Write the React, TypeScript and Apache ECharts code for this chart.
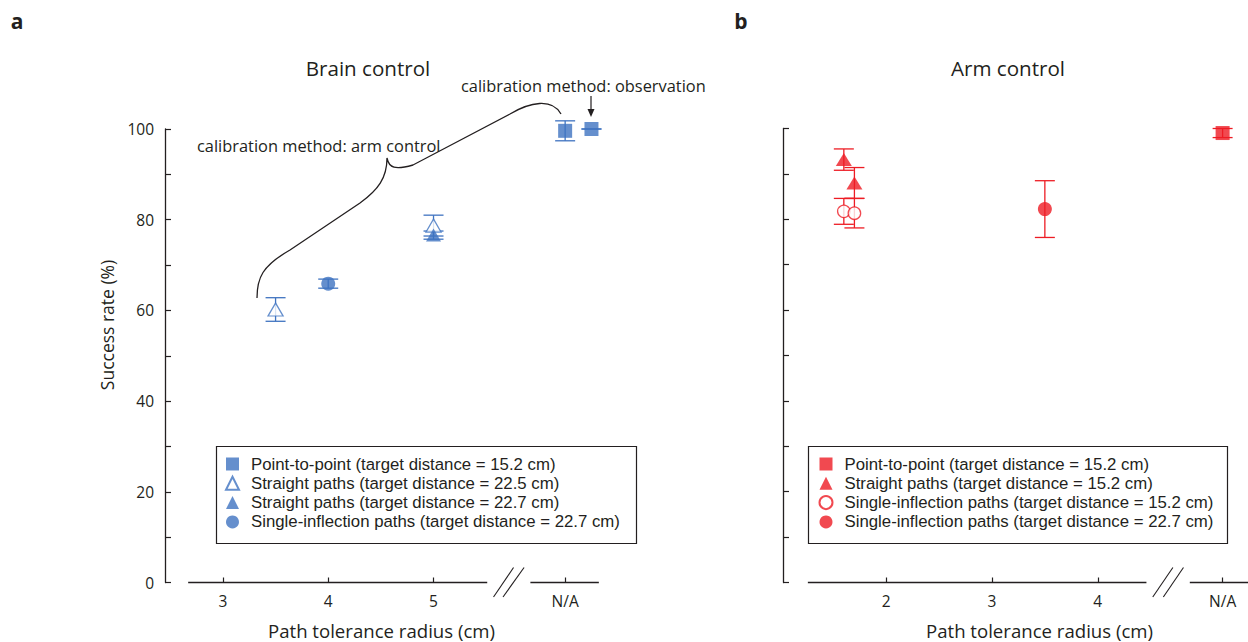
import React, { useEffect, useRef } from 'react';
import * as echarts from 'echarts';

const FONT = '"Open Sans", "Noto Sans", sans-serif';
const LEGEND_FONT = '"Liberation Sans", Arial, sans-serif';
const INK = '#231f20';
const BLUE = '#3f73c0';
const RED = '#ed1c24';

// ---- data: [x, mean, error] ----
const brainP2P = [[6.25, 99.6, 2.2], [6.5, 100.0, 0]];
const brainStraight225 = [[3.5, 60.2, 2.6], [5, 78.7, 2.3]];
const brainStraight227 = [[5, 76.6, 0.9]];
const brainInflect227 = [[4, 65.9, 1.0]];

const armP2P = [[5.18, 99.0, 1.0]];
const armStraight152 = [[1.6, 93.15, 2.35], [1.7, 88.0, 3.4]];
const armInflect152 = [[1.6, 81.75, 2.85], [1.7, 81.35, 3.25]];
const armInflect227 = [[3.5, 82.25, 6.25]];

const brainTicks = [3, 4, 5, 6.25];
const brainTickLabels = ['3', '4', '5', 'N/A'];
const armTicks = [2, 3, 4, 5.18];
const armTickLabels = ['2', '3', '4', 'N/A'];

const brainAxisSegments = [[2.67, 5.51], [5.92, 6.57]];
const armAxisSegments = [[1.26, 4.46], [4.87, 5.42]];
const brainBreaks = [[5.57, 5.76], [5.66, 5.86]];
const armBreaks = [[4.52, 4.71], [4.62, 4.81]];
const breakY = [-3.2, 3.3];

const brainNames = [
  'Point-to-point (target distance = 15.2 cm)',
  'Straight paths (target distance = 22.5 cm)',
  'Straight paths (target distance = 22.7 cm)',
  'Single-inflection paths (target distance = 22.7 cm)',
];
const armNames = [
  'Point-to-point (target distance = 15.2 cm) ',
  'Straight paths (target distance = 15.2 cm)',
  'Single-inflection paths (target distance = 15.2 cm)',
  'Single-inflection paths (target distance = 22.7 cm) ',
];

const braceD =
  'M257,298 C257,278 262,266 290,250 L360,203 C378,190 387,178 387,158 C389,168 395,170 413,165 L510,114 C530,102 552,98 561,114';
echarts.graphic.registerShape('calibBrace', echarts.graphic.extendPath(braceD, {}));

function errSeries(data: number[][], idx: number, color: string) {
  return {
    type: 'custom',
    xAxisIndex: idx,
    yAxisIndex: idx,
    silent: true,
    z: 2,
    data: data.map((d) => [d[0], d[1] - d[2], d[1] + d[2]]),
    encode: { x: 0, y: [1, 2] },
    renderItem: (_p: any, api: any) => {
      const lo = api.coord([api.value(0), api.value(1)]);
      const hi = api.coord([api.value(0), api.value(2)]);
      const w = 10;
      const style = { stroke: color, lineWidth: 1.3, fill: 'none' };
      return {
        type: 'group',
        children: [
          { type: 'line', shape: { x1: lo[0], y1: lo[1], x2: hi[0], y2: hi[1] }, style },
          { type: 'line', shape: { x1: lo[0] - w, y1: lo[1], x2: lo[0] + w, y2: lo[1] }, style },
          { type: 'line', shape: { x1: hi[0] - w, y1: hi[1], x2: hi[0] + w, y2: hi[1] }, style },
        ],
      };
    },
  };
}

function scatter(name: string, data: number[][], idx: number, symbol: string, size: any, itemStyle: any) {
  return {
    type: 'scatter',
    name,
    xAxisIndex: idx,
    yAxisIndex: idx,
    data: data.map((d) => [d[0], d[1]]),
    symbol,
    symbolSize: size,
    itemStyle,
    z: 3,
  };
}

function segSeries(segs: number[][], idx: number) {
  return segs.map((s) => ({
    type: 'line',
    xAxisIndex: idx,
    yAxisIndex: idx,
    data: [[s[0], 0], [s[1], 0]],
    symbol: 'none',
    silent: true,
    clip: false,
    lineStyle: { color: INK, width: 1.3 },
    z: 1,
  }));
}

function breakSeries(segs: number[][], idx: number) {
  return segs.map((s) => ({
    type: 'line',
    xAxisIndex: idx,
    yAxisIndex: idx,
    data: [[s[0], breakY[0]], [s[1], breakY[1]]],
    symbol: 'none',
    silent: true,
    clip: false,
    lineStyle: { color: INK, width: 1.1 },
    z: 1,
  }));
}

function xAxis(idx: number, min: number, max: number, ticks: number[], labels: string[]) {
  return {
    type: 'value',
    gridIndex: idx,
    min,
    max,
    axisLine: { show: false },
    axisTick: { show: true, inside: true, length: 5, customValues: ticks, lineStyle: { color: INK, width: 1.2 } },
    axisLabel: {
      show: true,
      customValues: ticks,
      margin: 10,
      fontSize: 15.5,
      fontFamily: FONT,
      color: INK,
      formatter: (v: number) => {
        const i = ticks.findIndex((t) => Math.abs(t - v) < 1e-6);
        return i >= 0 ? labels[i] : '';
      },
    },
    splitLine: { show: false },
  };
}

function yAxis(idx: number, showLabels: boolean) {
  return {
    type: 'value',
    gridIndex: idx,
    min: 0,
    max: 100,
    interval: 10,
    axisLine: { show: true, lineStyle: { color: INK, width: 1.3 } },
    axisTick: { show: true, inside: true, length: 6, lineStyle: { color: INK, width: 1.2 } },
    axisLabel: {
      show: showLabels,
      margin: 11,
      fontSize: 15.5,
      fontFamily: FONT,
      color: INK,
      formatter: (v: number) => (v % 20 === 0 ? String(v) : ''),
    },
    splitLine: { show: false },
  };
}

function legend(left: number, names: string[]) {
  return {
    show: true,
    orient: 'vertical',
    left,
    top: 454.6,
    padding: 0,
    itemWidth: 13,
    itemHeight: 13,
    itemGap: 0.5,
    selectedMode: false,
    data: names,
    formatter: (n: string) => n.trim(),
    textStyle: { fontFamily: LEGEND_FONT, fontSize: 16.8, lineHeight: 18.8, color: INK, padding: [0, 0, 0, 7] },
  };
}

function text(t: string, x: number, y: number, size: number, opts: any = {}) {
  return {
    type: 'text',
    x,
    y,
    rotation: opts.rotation || 0,
    style: {
      text: t,
      fill: INK,
      font: `${opts.bold ? 'bold ' : ''}${size}px ${FONT}`,
      textAlign: opts.align || 'center',
      align: opts.align || 'center',
      textVerticalAlign: 'middle',
      verticalAlign: 'middle',
    },
  };
}

export default function App() {
  const ref = useRef<HTMLDivElement>(null);
  useEffect(() => {
    if (!ref.current) return;
    const chart = echarts.init(ref.current, null, { renderer: 'svg' });
    const blueFill = { color: BLUE };
    const blueOpen = { color: '#fff', borderColor: BLUE, borderWidth: 1.3 };
    const redFill = { color: RED };
    const redOpen = { color: '#fff', borderColor: RED, borderWidth: 1.3 };
    const option: any = {
      animation: false,
      grid: [
        { left: 165, top: 129, width: 437, height: 453.5 },
        { left: 783, top: 128.5, width: 465, height: 454 },
      ],
      xAxis: [
        xAxis(0, 2.45, 6.6, brainTicks, brainTickLabels),
        xAxis(1, 1.025, 5.42, armTicks, armTickLabels),
      ],
      yAxis: [yAxis(0, true), yAxis(1, false)],
      legend: [legend(225, brainNames), legend(818.5, armNames)],
      series: [
        ...segSeries(brainAxisSegments, 0),
        ...breakSeries(brainBreaks, 0),
        ...segSeries(armAxisSegments, 1),
        ...breakSeries(armBreaks, 1),
        errSeries(brainP2P, 0, BLUE),
        errSeries(brainStraight225, 0, BLUE),
        errSeries(brainStraight227, 0, BLUE),
        errSeries(brainInflect227, 0, BLUE),
        errSeries(armP2P, 1, RED),
        errSeries(armStraight152, 1, RED),
        errSeries(armInflect152, 1, RED),
        errSeries(armInflect227, 1, RED),
        scatter(brainNames[0], brainP2P, 0, 'rect', 14, blueFill),
        scatter(brainNames[1], brainStraight225, 0, 'triangle', [15, 13], blueOpen),
        scatter(brainNames[2], brainStraight227, 0, 'triangle', [15, 13], blueFill),
        scatter(brainNames[3], brainInflect227, 0, 'circle', 14, blueFill),
        scatter(armNames[0], armP2P, 1, 'rect', 14, redFill),
        scatter(armNames[2], armInflect152, 1, 'circle', 12.5, redOpen),
        scatter(armNames[1], armStraight152, 1, 'triangle', [16, 13], redFill),
        scatter(armNames[3], armInflect227, 1, 'circle', 14, redFill),
      ],
      graphic: [
        text('a', 17, 21, 21, { bold: true }),
        text('b', 741, 21, 21, { bold: true }),
        text('Brain control', 368, 68, 20.6),
        text('Arm control', 1008, 68, 20.6),
        text('calibration method: observation', 461, 85, 16.4, { align: 'left' }),
        text('calibration method: arm control', 197, 145, 16.4, { align: 'left' }),
        text('Success rate (%)', 107, 325, 17.5, { rotation: Math.PI / 2 }),
        text('Path tolerance radius (cm)', 381.5, 630, 18.6),
        text('Path tolerance radius (cm)', 1039.5, 630, 18.6),
        {
          type: 'calibBrace',
          x: 0,
          y: 0,
          style: { stroke: INK, fill: 'none', lineWidth: 1.3 },
          silent: true,
        },
        {
          type: 'line',
          shape: { x1: 591, y1: 96, x2: 591, y2: 111 },
          style: { stroke: INK, lineWidth: 1.2 },
        },
        {
          type: 'polygon',
          shape: { points: [[587.5, 109], [594.5, 109], [591, 117]] },
          style: { fill: INK },
        },
        {
          type: 'rect',
          shape: { x: 216.5, y: 446.5, width: 420, height: 97 },
          style: { fill: 'none', stroke: INK, lineWidth: 1.2 },
          z: -1,
        },
        {
          type: 'rect',
          shape: { x: 808.5, y: 446.5, width: 419, height: 97 },
          style: { fill: 'none', stroke: INK, lineWidth: 1.2 },
          z: -1,
        },
      ],
    };
    chart.setOption(option);
    return () => chart.dispose();
  }, []);
  return (
    <div
      ref={ref}
      style={{ position: 'fixed', left: 0, top: 0, width: 1248, height: 642, background: '#fff' }}
    />
  );
}
